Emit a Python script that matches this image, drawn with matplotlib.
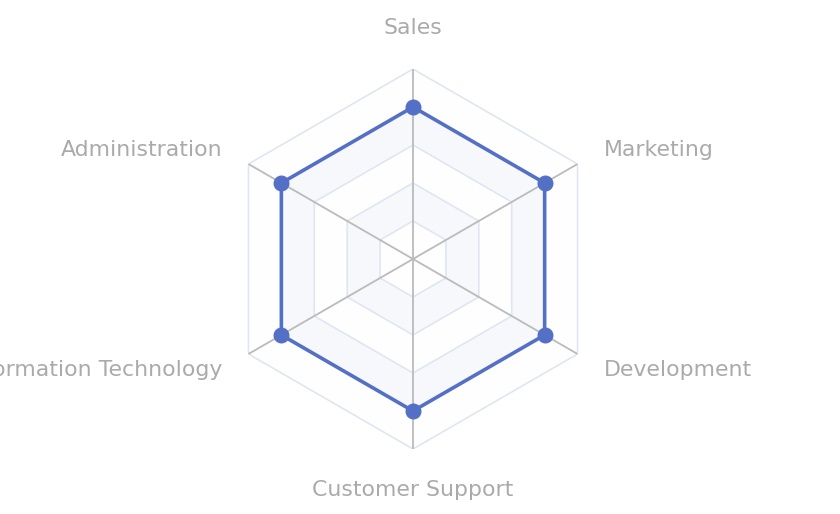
import numpy as np
import matplotlib.pyplot as plt

# radar indicators, clockwise from the top
categories = ["Sales", "Marketing", "Development", "Customer Support",
              "Information Technology", "Administration"]
max_value = 100
values = [80, 80, 80, 80, 80, 80]

split_levels = [20, 40, 60, 80, 100]
split_colors = ["#fefefe", "#f6f8fc"]

W, H = 840, 514
cx, cy, R = 413, 259, 190

fig = plt.figure(figsize=(W / 100, H / 100), dpi=100)
ax = fig.add_axes([(cx - R) / W, (H - cy - R) / H, 2 * R / W, 2 * R / H],
                  projection="polar")
ax.set_theta_zero_location("N")
ax.set_theta_direction(-1)
ax.set_ylim(0, max_value)
ax.grid(False)
ax.spines["polar"].set_visible(False)
ax.set_xticks([])
ax.set_yticks([])
ax.patch.set_alpha(0)

n = len(categories)
angles = np.arange(n) * 2 * np.pi / n
closed = np.append(angles, angles[0])

# alternating split areas, outermost first so inner ones cover it
for i in range(len(split_levels) - 1, -1, -1):
    r = split_levels[i]
    ax.fill(closed, [r] * (n + 1), color=split_colors[i % 2], zorder=1,
            linewidth=0)
for r in split_levels:
    ax.plot(closed, [r] * (n + 1), color="#e0e6f1", linewidth=1.2, zorder=2)

# axis lines
for a in angles:
    ax.plot([a, a], [0, max_value], color="#bbbbbb", linewidth=1.3, zorder=3)

# series
vals = values + values[:1]
ax.plot(closed, vals, color="#5470c6", linewidth=2.6, zorder=4,
        solid_joinstyle="round")
ax.plot(angles, values, "o", color="#5470c6", markersize=10.5, zorder=5)

# indicator names
offsets = [(0, 41, "center"), (26, 14, "left"), (26, -16, "left"),
           (0, -41, "center"), (-26, -16, "right"), (-26, 14, "right")]
for a, name, (dx, dy, ha) in zip(angles, categories, offsets):
    ax.annotate(name, xy=(a, max_value), xytext=(dx, dy),
                textcoords="offset pixels", ha=ha, va="center",
                fontsize=15.8, color="#aaaaaa", annotation_clip=False)

fig.savefig("out.png", dpi=100)
